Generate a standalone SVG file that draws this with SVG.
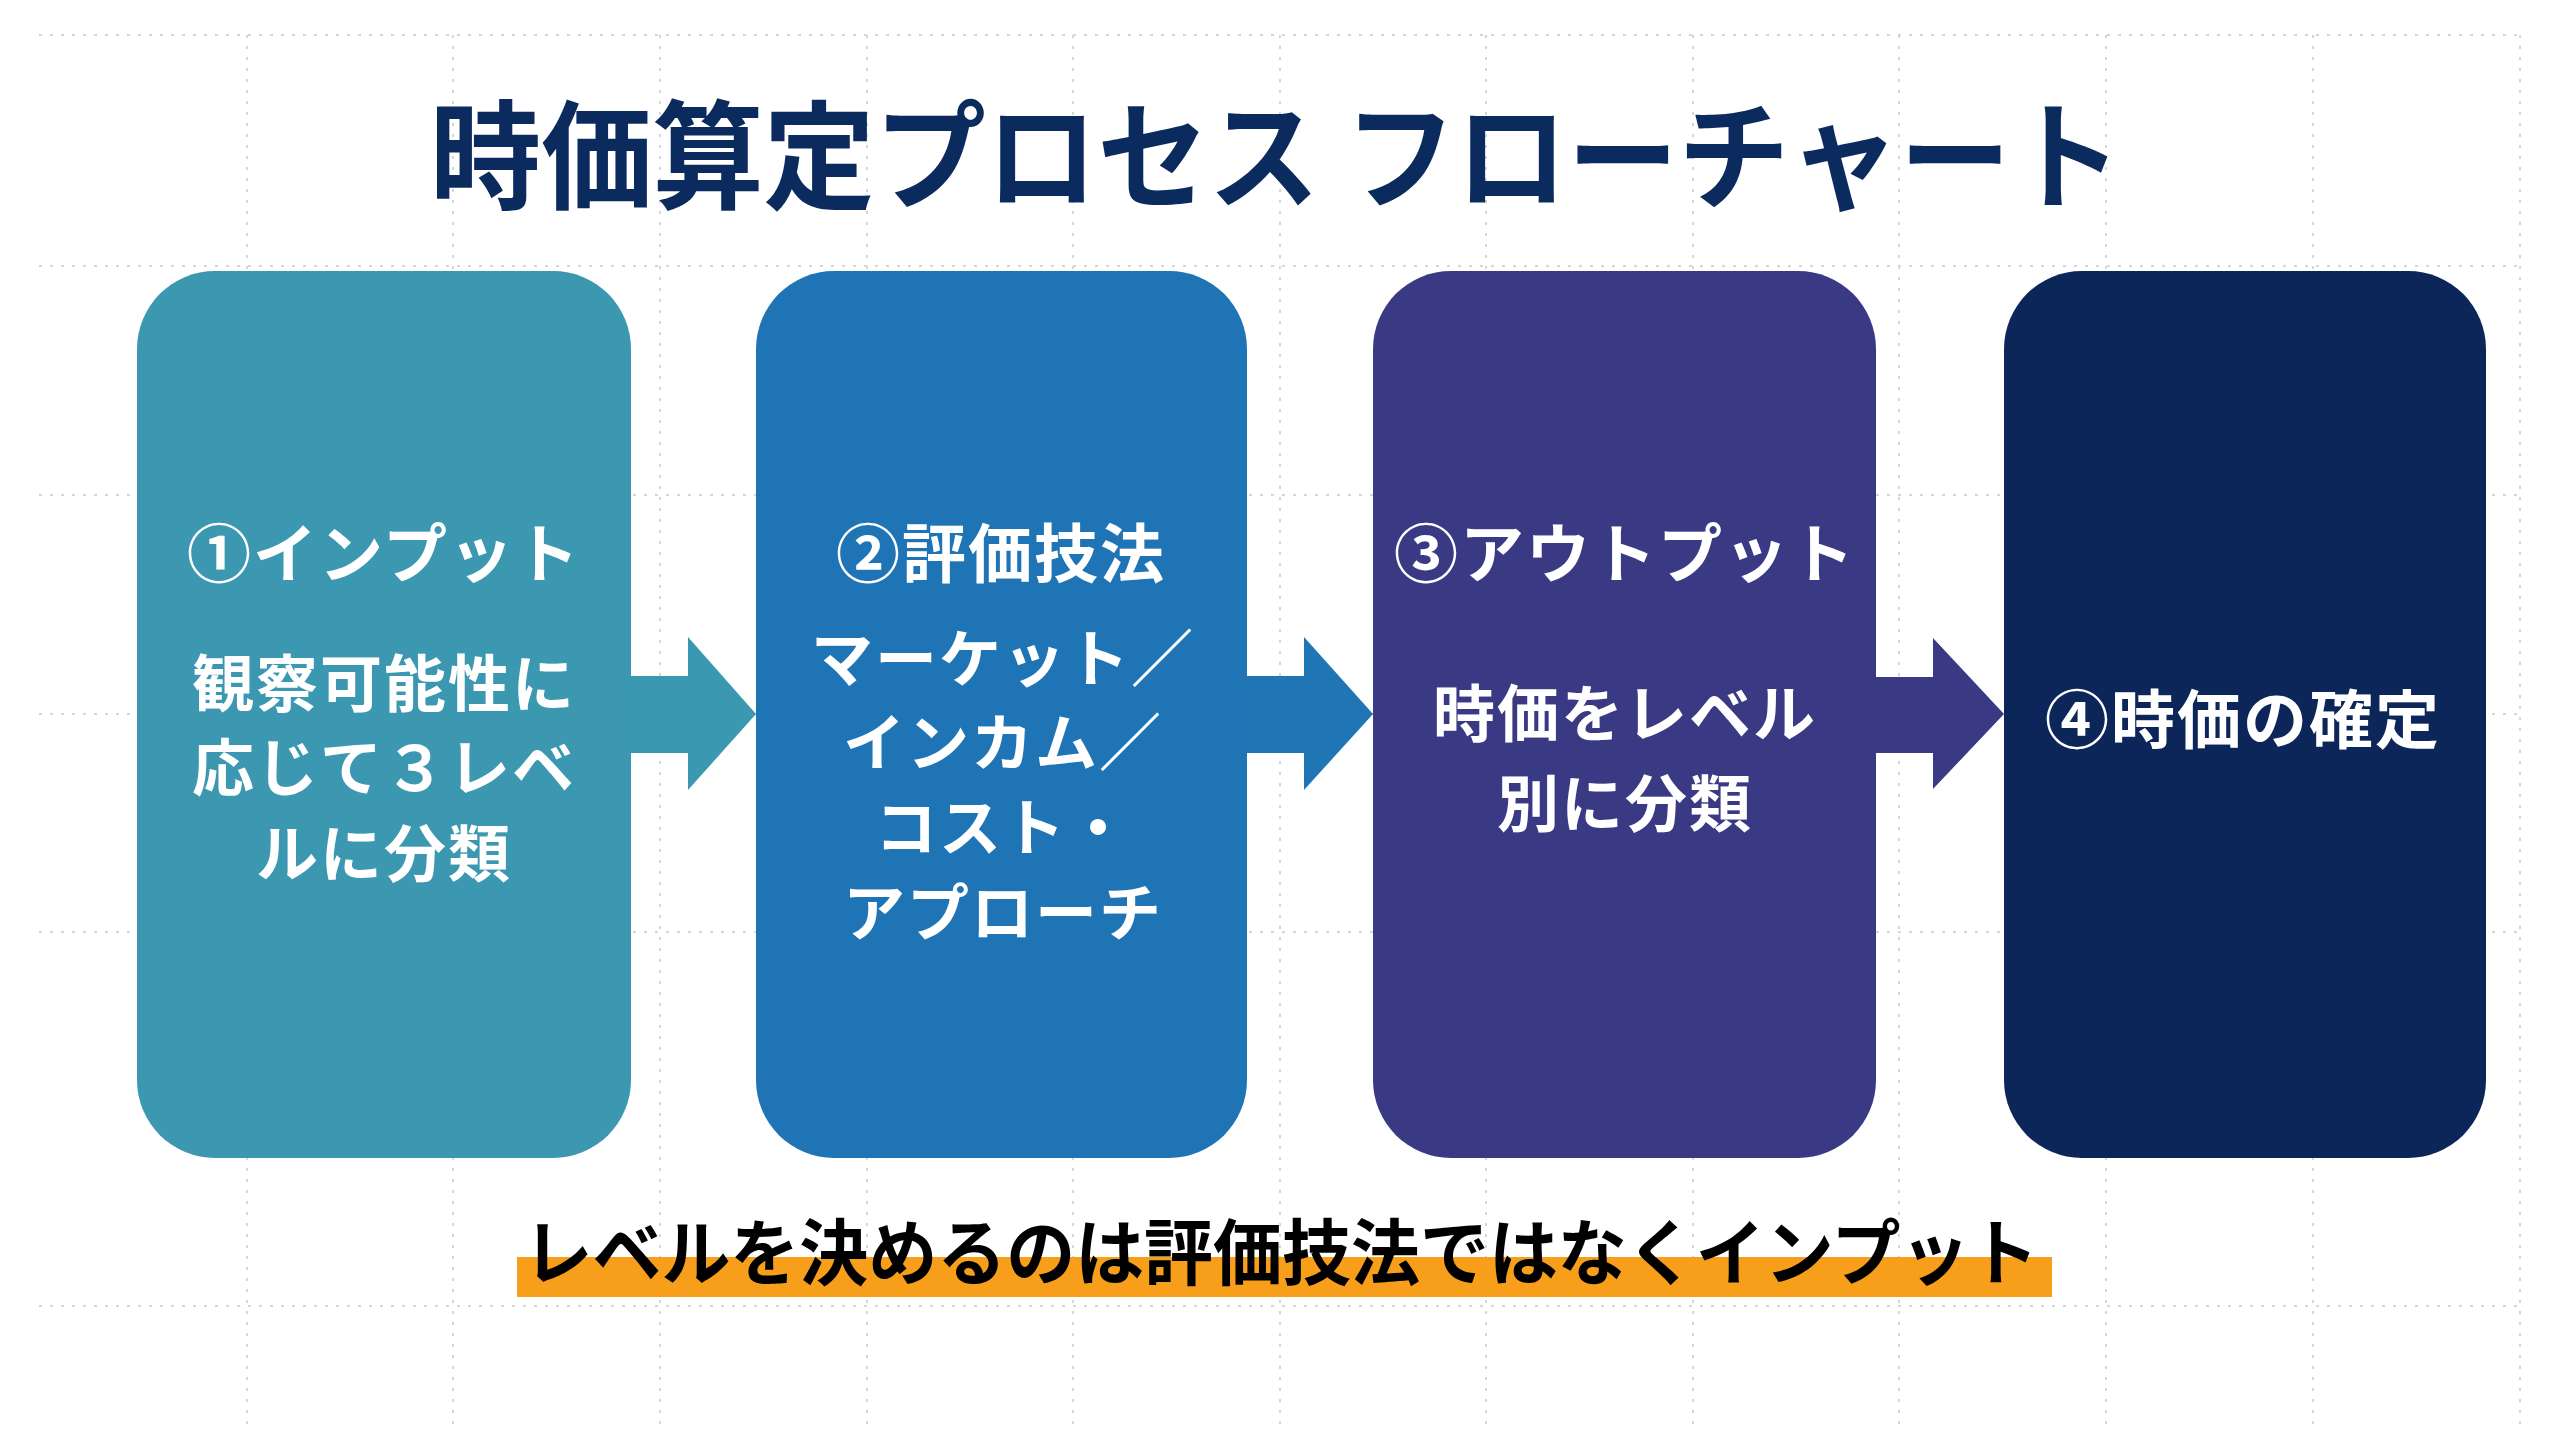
<svg xmlns="http://www.w3.org/2000/svg" width="2560" height="1429" viewBox="0 0 2560 1429">
<defs>
<style>
.grid line{stroke:#d3d7dc;stroke-width:2;stroke-dasharray:3 8;}
.lbl{font-family:"Noto Sans CJK JP","Noto Sans CJK SC",sans-serif;font-weight:700;fill:#ffffff;text-anchor:middle;font-size:62px;letter-spacing:2px;}
.hdr{font-size:64px;}
</style>
</defs>
<rect width="2560" height="1429" fill="#ffffff"/>
<g class="grid">
<line x1="39" y1="35" x2="2521" y2="35"/>
<line x1="39" y1="266" x2="2521" y2="266"/>
<line x1="39" y1="495" x2="2521" y2="495"/>
<line x1="39" y1="714" x2="2521" y2="714"/>
<line x1="39" y1="932" x2="2521" y2="932"/>
<line x1="39" y1="1306" x2="2521" y2="1306"/>
<line x1="247" y1="35" x2="247" y2="1429"/>
<line x1="453" y1="35" x2="453" y2="1429"/>
<line x1="660" y1="35" x2="660" y2="1429"/>
<line x1="867" y1="35" x2="867" y2="1429"/>
<line x1="1073" y1="35" x2="1073" y2="1429"/>
<line x1="1280" y1="35" x2="1280" y2="1429"/>
<line x1="1486" y1="35" x2="1486" y2="1429"/>
<line x1="1693" y1="35" x2="1693" y2="1429"/>
<line x1="1899" y1="35" x2="1899" y2="1429"/>
<line x1="2106" y1="35" x2="2106" y2="1429"/>
<line x1="2313" y1="35" x2="2313" y2="1429"/>
<line x1="2520" y1="35" x2="2520" y2="1429"/>
</g>
<g id="title">
<text x="1276" y="200" font-family="'Noto Sans CJK JP','Noto Sans CJK SC',sans-serif" font-weight="700" font-size="118" fill="#0b2a5e" text-anchor="middle" textLength="1692" lengthAdjust="spacingAndGlyphs">時価算定プロセス フローチャート</text>
</g>
<g id="connectors">
<polygon points="625,676 688,676 688,637 756,714 688,790 688,753 625,753" fill="#3a98b0"/>
<polygon points="1241,676 1304,676 1304,637 1373,714 1304,790 1304,753 1241,753" fill="#2075b5"/>
<polygon points="1870,677 1933,677 1933,638 2004,714 1933,789 1933,753 1870,753" fill="#3a3a84"/>
</g>
<g id="node1">
<rect x="137" y="271" width="494" height="887" rx="78" fill="#3c98b0"/>
<text class="lbl hdr" x="384" y="577">①インプット</text>
<text class="lbl" x="384" y="707">観察可能性に</text>
<text class="lbl" x="384" y="791">応じて３レベ</text>
<text class="lbl" x="384" y="877">ルに分類</text>
</g>
<g id="node2">
<rect x="756" y="271" width="491" height="887" rx="78" fill="#1f74b5"/>
<text class="lbl hdr" x="1001" y="577">②評価技法</text>
<text class="lbl" x="1003" y="682">マーケット／</text>
<text class="lbl" x="1003" y="766">インカム／</text>
<text class="lbl" x="1003" y="851">コスト・</text>
<text class="lbl" x="1003" y="936">アプローチ</text>
</g>
<g id="node3">
<rect x="1373" y="271" width="503" height="887" rx="78" fill="#3a3a84"/>
<text class="lbl hdr" x="1625" y="577">③アウトプット</text>
<text class="lbl" x="1625" y="737">時価をレベル</text>
<text class="lbl" x="1625" y="827">別に分類</text>
</g>
<g id="node4">
<rect x="2004" y="271" width="482" height="887" rx="78" fill="#0c2659"/>
<text class="lbl hdr" x="2243" y="743">④時価の確定</text>
</g>
<g id="note">
<rect x="517" y="1257" width="1535" height="40" fill="#f79e1b"/>
<text x="1281" y="1279" font-family="'Noto Sans CJK JP','Noto Sans CJK SC',sans-serif" font-weight="700" font-size="72" fill="#000000" text-anchor="middle" textLength="1515" lengthAdjust="spacingAndGlyphs">レベルを決めるのは評価技法ではなくインプット</text>
</g>
</svg>
